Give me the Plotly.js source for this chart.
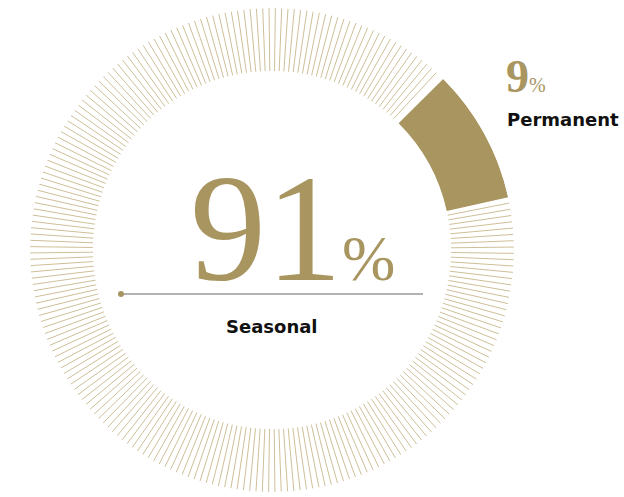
<!DOCTYPE html>
<html>
<head>
<meta charset="utf-8">
<script src="https://cdn.plot.ly/plotly-3.0.1.min.js"></script>
<style>html,body{margin:0;padding:0;background:#fff;}#chart{width:624px;height:497px;}</style>
</head>
<body>
<div id="chart"></div>
<script>
// ---- data ----
var categories = ["Permanent", "Seasonal"];
var shares = [9, 91];               // percent
var valueLabels = ["9", "91"];

// ---- style ----
var GOLD = "#a8955f";
var HATCH = "#cdbf98";
var W = 624, H = 497;
var startAngle = 45;                // Permanent slice starts here (deg, clockwise from 12 o'clock)
var inner = 0.74;                   // ring inner radius (fraction of outer)
var hatchStep = 1.5;                // degrees between hatch lines
var hatchGap = 1.4;                 // gap next to the solid slice

function px(x) { return x / W; }
function py(y) { return 1 - y / H; }

// Permanent slice, drawn as a polar bar
var permSpan = shares[0] / 100 * 360;
var permTrace = {
  type: "barpolar",
  name: categories[0],
  r: [1 - inner],
  base: [inner],
  theta: [startAngle + permSpan / 2],
  width: [permSpan],
  marker: { color: GOLD, line: { width: 0 } },
  hoverinfo: "skip"
};

// Seasonal slice, drawn as radial hatch lines across its angular span
var seasStart = startAngle + permSpan + hatchGap;
var seasEnd = startAngle + 360 - hatchGap;
var hr = [], ht = [];
for (var t = seasStart; t <= seasEnd + 1e-6; t += hatchStep) {
  hr.push(inner, 1, null);
  ht.push(t, t, null);
}
var seasTrace = {
  type: "scatterpolar",
  name: categories[1],
  mode: "lines",
  r: hr,
  theta: ht,
  connectgaps: false,
  line: { color: HATCH, width: 1 },
  hoverinfo: "skip"
};

var cx = 272, cy = 250, R = 242;
var LABEL_FONT = { family: "DejaVu Sans", size: 18, color: "#111" };

var layout = {
  width: W, height: H,
  margin: { l: 0, r: 0, t: 0, b: 0 },
  paper_bgcolor: "#fff",
  showlegend: false,
  polar: {
    domain: { x: [px(cx - R), px(cx + R)], y: [py(cy + R), py(cy - R)] },
    bgcolor: "rgba(0,0,0,0)",
    radialaxis: { range: [0, 1], visible: false, showgrid: false },
    angularaxis: { rotation: 90, direction: "clockwise", visible: false, showgrid: false, showline: false }
  },
  shapes: [
    { type: "line", xref: "paper", yref: "paper", x0: px(121), x1: px(423), y0: py(294), y1: py(294),
      line: { color: "#9a9a9a", width: 1.5 } },
    { type: "circle", xref: "paper", yref: "paper", x0: px(118), x1: px(124), y0: py(297), y1: py(291),
      fillcolor: GOLD, line: { width: 0 } }
  ],
  annotations: [
    { text: valueLabels[1] + "<span style='font-size:64px'>%</span>", xref: "paper", yref: "paper",
      x: px(188), y: py(286), xanchor: "left", yanchor: "bottom", yshift: -29, showarrow: false,
      font: { family: "Liberation Serif", size: 152, color: GOLD } },
    { text: "<b>" + categories[1] + "</b>", xref: "paper", yref: "paper", x: px(272), y: py(326),
      xanchor: "center", yanchor: "middle", showarrow: false, font: LABEL_FONT },
    { text: "<b>" + valueLabels[0] + "</b><span style='font-size:20px'>%</span>", xref: "paper", yref: "paper",
      x: px(504), y: py(76), xanchor: "left", yanchor: "middle", showarrow: false,
      font: { family: "Liberation Serif", size: 46, color: GOLD } },
    { text: "<b>" + categories[0] + "</b>", xref: "paper", yref: "paper", x: px(505), y: py(119),
      xanchor: "left", yanchor: "middle", showarrow: false, font: LABEL_FONT }
  ]
};

Plotly.newPlot("chart", [seasTrace, permTrace], layout, { displayModeBar: false, staticPlot: true });
</script>
</body>
</html>
